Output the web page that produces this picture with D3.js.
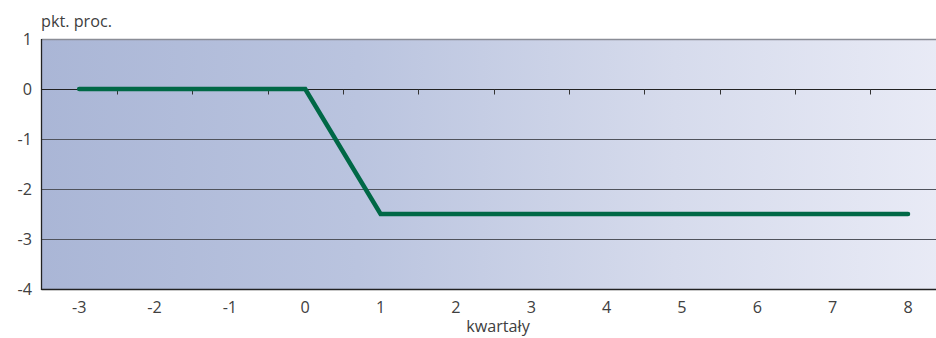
<!DOCTYPE html>
<html>
<head>
<meta charset="utf-8">
<script src="https://cdn.jsdelivr.net/npm/d3@7"></script>
<style>
  html, body { margin: 0; padding: 0; background: #fff; }
  svg { display: block; }
  text { font-family: "Open Sans", "Noto Sans", sans-serif; fill: #404040; }
</style>
</head>
<body>
<svg id="chart" width="936" height="338"></svg>
<script>
// Quarters relative to the shock and the response in percentage points
const quarters = [-3, -2, -1, 0, 1, 2, 3, 4, 5, 6, 7, 8];
const response = [0, 0, 0, 0, -2.5, -2.5, -2.5, -2.5, -2.5, -2.5, -2.5, -2.5];
const yTicks = [1, 0, -1, -2, -3, -4];
const yLabel = "pkt. proc.";
const xLabel = "kwartały";

(function () {
  const svg = d3.select("#chart");
  const W = 936;
  const plotLeft = 41.5, plotTop = 39, plotBottom = 289;
  const band = 75.35;
  const plotRight = plotLeft + band * quarters.length;
  const fs = 16.2;

  const x = d3.scaleBand().domain(quarters).range([plotLeft, plotRight]).paddingInner(0).paddingOuter(0);
  const y = d3.scaleLinear().domain([-4, 1]).range([plotBottom, plotTop]);
  const cx = d => x(d) + x.bandwidth() / 2;

  // Horizontal gradient background of the plot area
  const defs = svg.append("defs");
  const grad = defs.append("linearGradient").attr("id", "bg")
    .attr("gradientUnits", "userSpaceOnUse")
    .attr("x1", plotLeft).attr("x2", plotRight).attr("y1", 0).attr("y2", 0);
  grad.append("stop").attr("offset", "0%").attr("stop-color", "#aab6d6");
  grad.append("stop").attr("offset", "35%").attr("stop-color", "#bac4df");
  grad.append("stop").attr("offset", "70%").attr("stop-color", "#d6dbec");
  grad.append("stop").attr("offset", "100%").attr("stop-color", "#e9ebf6");

  svg.append("rect")
    .attr("x", plotLeft).attr("y", y(1))
    .attr("width", plotRight - plotLeft).attr("height", y(-4) - y(1))
    .attr("fill", "url(#bg)");

  // Gridlines
  svg.append("g").selectAll("line")
    .data(yTicks.filter(v => v !== 0 && v !== -4))
    .join("line")
    .attr("x1", plotLeft).attr("x2", W)
    .attr("y1", d => Math.round(y(d)) + 0.5).attr("y2", d => Math.round(y(d)) + 0.5)
    .attr("stroke", d => d === 1 ? "#8a8d96" : "#50535c")
    .attr("stroke-width", d => d === 1 ? 1.5 : 1.2);

  // Zero line with tick marks at quarter boundaries
  const zeroY = Math.round(y(0)) + 0.5;
  svg.append("line")
    .attr("x1", plotLeft).attr("x2", W)
    .attr("y1", zeroY).attr("y2", zeroY)
    .attr("stroke", "#222").attr("stroke-width", 1.2);
  svg.append("g").selectAll("line")
    .data(quarters.slice(1))
    .join("line")
    .attr("x1", d => Math.round(x(d)) + 0.5).attr("x2", d => Math.round(x(d)) + 0.5)
    .attr("y1", zeroY).attr("y2", zeroY + 5)
    .attr("stroke", "#333").attr("stroke-width", 1);

  // Bottom and left axis lines
  svg.append("line")
    .attr("x1", plotLeft).attr("x2", W)
    .attr("y1", Math.round(y(-4)) + 0.5).attr("y2", Math.round(y(-4)) + 0.5)
    .attr("stroke", "#222").attr("stroke-width", 1.3);
  svg.append("line")
    .attr("x1", plotLeft).attr("x2", plotLeft)
    .attr("y1", y(1)).attr("y2", y(-4) + 1)
    .attr("stroke", "#222").attr("stroke-width", 1.3);

  // Y tick labels
  svg.append("g").selectAll("text")
    .data(yTicks)
    .join("text")
    .attr("x", 32).attr("y", d => y(d) + 6)
    .attr("text-anchor", "end")
    .attr("font-size", fs)
    .text(d => d);

  // X tick labels
  svg.append("g").selectAll("text")
    .data(quarters)
    .join("text")
    .attr("x", d => cx(d)).attr("y", 313)
    .attr("text-anchor", "middle")
    .attr("font-size", fs)
    .text(d => d);

  // Axis titles
  svg.append("text").attr("x", 41).attr("y", 27).attr("font-size", fs).text(yLabel);
  svg.append("text").attr("x", 498).attr("y", 332).attr("text-anchor", "middle").attr("font-size", fs).text(xLabel);

  // Response line
  const line = d3.line().x((d, i) => cx(quarters[i])).y(d => y(d));
  svg.append("path")
    .datum(response)
    .attr("d", line)
    .attr("fill", "none")
    .attr("stroke", "#006846")
    .attr("stroke-width", 4.5)
    .attr("stroke-linecap", "round")
    .attr("stroke-linejoin", "miter");
})();
</script>
</body>
</html>
